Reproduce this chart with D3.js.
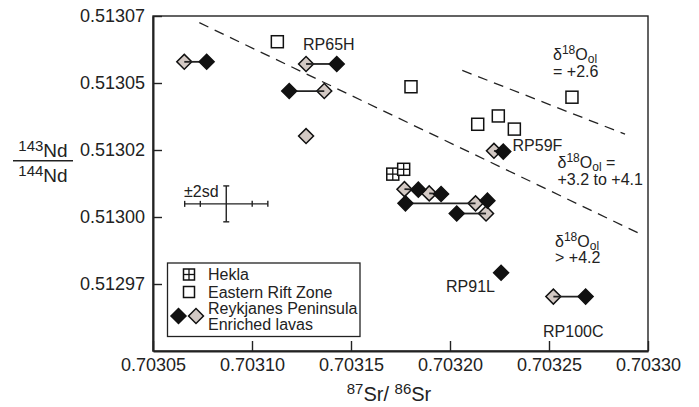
<!DOCTYPE html>
<html>
<head>
<meta charset="utf-8">
<script src="https://cdn.jsdelivr.net/npm/d3@7"></script>
<style>
  body { margin: 0; background: #fff; }
  svg { display: block; }
  text { font-family: "Liberation Sans", Arial, Helvetica, sans-serif; fill: #222; }
</style>
</head>
<body>
<svg id="chart" width="699" height="407"></svg>
<script>
// ---------- data ----------
const xTickValues = [0.70305, 0.70310, 0.70315, 0.70320, 0.70325, 0.70330];
const xTickLabels = ["0.70305", "0.70310", "0.70315", "0.70320", "0.70325", "0.70330"];
const yTickValues = [0.512970, 0.512995, 0.513020, 0.513045, 0.513070];
const yTickLabels = ["0.51297", "0.51300", "0.51302", "0.51305", "0.51307"];

// Eastern Rift Zone (open squares)
const erzSr = [0.7031128, 0.7031803, 0.7032616, 0.7032140, 0.7032244, 0.7032325];
const erzNd = [0.5130604, 0.5130436, 0.5130397, 0.5130296, 0.5130327, 0.5130278];

// Hekla (squares with cross)
const heklaSr = [0.7031711, 0.7031766];
const heklaNd = [0.5130110, 0.5130128];

// Reykjanes Peninsula enriched lavas: paired measurements (grey & black diamonds)
const pairGraySr  = [0.7030658, 0.7031273, 0.7031365, 0.7032222, 0.7031770, 0.7031895, 0.7032129, 0.7032182, 0.7032522];
const pairGrayNd  = [0.5130529, 0.5130521, 0.5130420, 0.5130197, 0.5130054, 0.5130038, 0.5130001, 0.5129963, 0.5129653];
const pairBlackSr = [0.7030771, 0.7031428, 0.7031188, 0.7032269, 0.7031840, 0.7031955, 0.7031775, 0.7032034, 0.7032685];
const pairBlackNd = [0.5130529, 0.5130521, 0.5130420, 0.5130194, 0.5130052, 0.5130036, 0.5130001, 0.5129963, 0.5129653];

// unpaired diamonds
const singleGraySr  = [0.7031273];
const singleGrayNd  = [0.5130252];
const singleBlackSr = [0.7032189, 0.7032258];
const singleBlackNd = [0.5130011, 0.5129742];

// dashed delta-18O boundaries [Sr1, Nd1, Sr2, Nd2]
const boundaryLines = [
  [0.7030734, 0.5130675, 0.7032960, 0.5129887],
  [0.7032062, 0.5130497, 0.7032884, 0.5130259]
];

// +-2sd error cross
const errCenter = [0.7030870, 0.5129999];
const errSr2sd = 0.0000210;
const errSr1sd = 0.0000131;
const errNd2sd = 0.0000067;

const sampleLabels = ["RP65H", "RP59F", "RP91L", "RP100C"];
const legendLabels = ["Hekla", "Eastern Rift Zone", "Reykjanes Peninsula", "Enriched lavas"];

// ---------- layout ----------
const svg = d3.select("#chart");
const pLeft = 153, pRight = 648, pTop = 16, pBottom = 351;

const x = d3.scaleLinear().domain([0.70305, 0.70330]).range([pLeft, pRight]);
const y = d3.scaleLinear().domain([0.512945, 0.513070]).range([pBottom, pTop]);

const GREY = "#d3c9c4";
const BLACK = "#111";

// frame
svg.append("rect")
  .attr("x", pLeft).attr("y", pTop)
  .attr("width", pRight - pLeft).attr("height", pBottom - pTop)
  .attr("fill", "none").attr("stroke", "#222").attr("stroke-width", 1.4);

// axes
const xAxis = d3.axisBottom(x)
  .tickValues(xTickValues)
  .tickFormat((d, i) => xTickLabels[i])
  .tickSizeInner(-10).tickSizeOuter(0).tickPadding(7);
const gx = svg.append("g").attr("transform", `translate(0,${pBottom})`).call(xAxis);
gx.select(".domain").attr("stroke", "#222").attr("stroke-width", 2);
gx.selectAll(".tick line").attr("stroke", "#222").attr("stroke-width", 1.4);
gx.selectAll(".tick text").style("font-size", "18px")
  .style("font-family", '"Liberation Sans", Arial, sans-serif').attr("fill", "#222");

const yAxis = d3.axisLeft(y)
  .tickValues(yTickValues)
  .tickFormat((d, i) => yTickLabels[i])
  .tickSizeInner(-9).tickSizeOuter(0).tickPadding(8);
const gy = svg.append("g").attr("transform", `translate(${pLeft},0)`).call(yAxis);
gy.select(".domain").attr("stroke", "#222").attr("stroke-width", 2);
gy.selectAll(".tick line").attr("stroke", "#222").attr("stroke-width", 1.4);
gy.selectAll(".tick text").style("font-size", "18px")
  .style("font-family", '"Liberation Sans", Arial, sans-serif').attr("fill", "#222");

// axis titles
const xt = svg.append("text").attr("x", 389).attr("y", 401).attr("text-anchor", "middle")
  .style("font-size", "20px");
xt.append("tspan").text("87").style("font-size", "15px").attr("dy", -7);
xt.append("tspan").text("Sr/ ").attr("dy", 7);
xt.append("tspan").text("86").style("font-size", "15px").attr("dy", -7);
xt.append("tspan").text("Sr").attr("dy", 7);

const yt1 = svg.append("text").attr("x", 43).attr("y", 157).attr("text-anchor", "middle")
  .style("font-size", "19px");
yt1.append("tspan").text("143").style("font-size", "15px").attr("dy", -6);
yt1.append("tspan").text("Nd").attr("dy", 6);
svg.append("line").attr("x1", 13).attr("x2", 73).attr("y1", 160.7).attr("y2", 160.7)
  .attr("stroke", "#222").attr("stroke-width", 1.4);
const yt2 = svg.append("text").attr("x", 43).attr("y", 182).attr("text-anchor", "middle")
  .style("font-size", "19px");
yt2.append("tspan").text("144").style("font-size", "15px").attr("dy", -6);
yt2.append("tspan").text("Nd").attr("dy", 6);

// dashed boundaries
svg.append("g").selectAll("line").data(boundaryLines).join("line")
  .attr("x1", d => x(d[0])).attr("y1", d => y(d[1]))
  .attr("x2", d => x(d[2])).attr("y2", d => y(d[3]))
  .attr("stroke", "#222").attr("stroke-width", 1.3)
  .attr("stroke-dasharray", "10,7");

// error cross
const ec = svg.append("g").attr("stroke", "#222").attr("stroke-width", 1.4);
const cx = x(errCenter[0]), cy = y(errCenter[1]);
ec.append("line").attr("x1", x(errCenter[0] - errSr2sd)).attr("x2", x(errCenter[0] + errSr2sd))
  .attr("y1", cy).attr("y2", cy);
[-errSr2sd, -errSr1sd, errSr1sd, errSr2sd].forEach(dv => {
  ec.append("line").attr("x1", x(errCenter[0] + dv)).attr("x2", x(errCenter[0] + dv))
    .attr("y1", cy - 3).attr("y2", cy + 3);
});
ec.append("line").attr("x1", cx).attr("x2", cx)
  .attr("y1", y(errCenter[1] + errNd2sd)).attr("y2", y(errCenter[1] - errNd2sd));
[errNd2sd, -errNd2sd].forEach(dv => {
  ec.append("line").attr("x1", cx - 3).attr("x2", cx + 3)
    .attr("y1", y(errCenter[1] + dv)).attr("y2", y(errCenter[1] + dv));
});
svg.append("text").attr("x", 184).attr("y", 197).style("font-size", "16px").text("±2sd");

// symbols
const diamondPath = d3.symbol().type(d3.symbolSquare).size(112)();
function diamond(g, px, py, fill) {
  g.append("path").attr("d", diamondPath)
    .attr("transform", `translate(${px},${py}) rotate(45)`)
    .attr("fill", fill).attr("stroke", "#111").attr("stroke-width", 1.5);
}
function openSquare(g, px, py, s) {
  g.append("rect").attr("x", px - s / 2).attr("y", py - s / 2)
    .attr("width", s).attr("height", s)
    .attr("fill", "#fff").attr("stroke", "#111").attr("stroke-width", 1.5);
}
function crossSquare(g, px, py, s) {
  openSquare(g, px, py, s);
  g.append("line").attr("x1", px - s / 2).attr("x2", px + s / 2).attr("y1", py).attr("y2", py)
    .attr("stroke", "#111").attr("stroke-width", 1.3);
  g.append("line").attr("x1", px).attr("x2", px).attr("y1", py - s / 2).attr("y2", py + s / 2)
    .attr("stroke", "#111").attr("stroke-width", 1.3);
}

const marks = svg.append("g");
erzSr.forEach((v, i) => openSquare(marks, x(v), y(erzNd[i]), 12));
heklaSr.forEach((v, i) => crossSquare(marks, x(v), y(heklaNd[i]), 12));

// grey diamonds first
pairGraySr.forEach((v, i) => diamond(marks, x(v), y(pairGrayNd[i]), GREY));
singleGraySr.forEach((v, i) => diamond(marks, x(v), y(singleGrayNd[i]), GREY));
// connecting lines
pairGraySr.forEach((v, i) => {
  marks.append("line")
    .attr("x1", x(v)).attr("y1", y(pairGrayNd[i]))
    .attr("x2", x(pairBlackSr[i])).attr("y2", y(pairBlackNd[i]))
    .attr("stroke", "#222").attr("stroke-width", 1.8);
});
// black diamonds
pairBlackSr.forEach((v, i) => diamond(marks, x(v), y(pairBlackNd[i]), BLACK));
singleBlackSr.forEach((v, i) => diamond(marks, x(v), y(singleBlackNd[i]), BLACK));

// sample labels
const lab = svg.append("g").style("font-size", "16px");
lab.append("text").attr("x", 303).attr("y", 50).text(sampleLabels[0]);
lab.append("text").attr("x", 512.5).attr("y", 150.5).text(sampleLabels[1]);
lab.append("text").attr("x", 446).attr("y", 292).text(sampleLabels[2]);
lab.append("text").attr("x", 543).attr("y", 336.5).text(sampleLabels[3]);

// delta-18O annotations
function deltaLabel(px, py, suffix) {
  const t = lab.append("text").attr("x", px).attr("y", py);
  t.append("tspan").text("δ");
  t.append("tspan").text("18").style("font-size", "12px").attr("dy", -6);
  t.append("tspan").text("O").attr("dy", 6);
  t.append("tspan").text("ol").style("font-size", "12px").attr("dy", 3);
  t.append("tspan").text(suffix).attr("dy", -3);
}
deltaLabel(553, 60, "");
lab.append("text").attr("x", 553).attr("y", 76.5).text("= +2.6");
deltaLabel(557.5, 168, " =");
lab.append("text").attr("x", 557.5).attr("y", 185).text("+3.2 to +4.1");
deltaLabel(555, 246.5, "");
lab.append("text").attr("x", 555).attr("y", 262.5).text("> +4.2");

// legend
const lg = svg.append("g");
lg.append("rect").attr("x", 167.5).attr("y", 263).attr("width", 192.5).attr("height", 73.5)
  .attr("fill", "#fff").attr("stroke", "#222").attr("stroke-width", 1.3);
crossSquare(lg, 189, 274.5, 11);
openSquare(lg, 189, 292, 11);
diamond(lg, 196, 316, GREY);
diamond(lg, 178.5, 316, BLACK);
const lt = lg.append("g").style("font-size", "16px");
lt.append("text").attr("x", 208).attr("y", 280).text(legendLabels[0]);
lt.append("text").attr("x", 208).attr("y", 297.5).text(legendLabels[1]);
lt.append("text").attr("x", 208).attr("y", 313.5).text(legendLabels[2]);
lt.append("text").attr("x", 208).attr("y", 330).text(legendLabels[3]);
</script>
</body>
</html>
